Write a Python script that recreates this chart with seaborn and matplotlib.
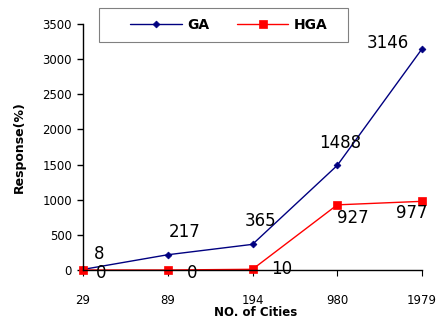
import matplotlib
matplotlib.use("Agg")
import matplotlib.pyplot as plt
from matplotlib.patches import Rectangle
import seaborn as sns
import pandas as pd

cities = ["29", "89", "194", "980", "1979"]
ga = [8, 217, 365, 1488, 3146]
hga = [0, 0, 10, 927, 977]

# label offsets in pixels (dx, dy) for each annotation
ga_off = [(16, 15), (17, 23), (8, 23), (3, 22), (-34, 6)]
hga_off = [(18, -3), (24, -3), (29, 0), (16, -13), (-10, -12)]

sns.set_theme(style="white")
plt.rcParams['font.family'] = ['DejaVu Sans']
plt.rcParams['text.color'] = 'black'
plt.rcParams['axes.labelcolor'] = 'black'
plt.rcParams['xtick.color'] = 'black'
plt.rcParams['ytick.color'] = 'black'

df = pd.DataFrame({
    "city": cities * 2,
    "value": ga + hga,
    "algo": ["GA"] * len(cities) + ["HGA"] * len(cities),
})

fig = plt.figure(figsize=(4.37, 3.2), dpi=100)
ax = fig.add_axes([83 / 437, 1 - 270 / 320, (422 - 83) / 437, (270 - 24) / 320])

sns.lineplot(data=df, x="city", y="value", hue="algo", style="algo",
             palette={"GA": "#000080", "HGA": "#ff0000"},
             markers={"GA": "D", "HGA": "s"}, dashes=False,
             markersize=5, linewidth=1, ax=ax, sort=False)
for line in ax.lines:
    line.set_clip_on(False)
    c = line.get_color()
    line.set_markeredgecolor(c)
    line.set_markerfacecolor(c)
    line.set_markeredgewidth(0.5)
    if line.get_marker() == "D":
        line.set_markersize(3.5)
    elif line.get_marker() == "s":
        line.set_markersize(5.5)

ax.set_xlim(0, len(cities) - 1)
ax.set_ylim(0, 3500)
ax.set_yticks(range(0, 3501, 500))
ax.set_xticks(range(len(cities)))
ax.set_xticklabels(cities)

for sp in ["top", "right"]:
    ax.spines[sp].set_visible(False)
for sp in ["left", "bottom"]:
    ax.spines[sp].set_color("black")
    ax.spines[sp].set_linewidth(1)

ax.tick_params(axis="y", which="both", left=True, length=4, width=1,
               labelsize=8.5, pad=4, direction="out")
ax.tick_params(axis="x", which="both", bottom=True, length=4, width=0.8,
               labelsize=8.5, pad=13, direction="out")

ax.set_xlabel("")
fig.text(256 / 437, 1 - 312 / 320, "NO. of Cities", fontsize=8.5, fontweight="bold",
         ha="center", va="center")
ax.set_ylabel("Response(%)", fontsize=9, fontweight="bold", labelpad=12)

px2pt = 72 / 100
for i, (v, (dx, dy)) in enumerate(zip(ga, ga_off)):
    ax.annotate(str(v), (i, v), xytext=(dx * px2pt, dy * px2pt),
                textcoords="offset points", ha="center", va="center", fontsize=12)
for i, (v, (dx, dy)) in enumerate(zip(hga, hga_off)):
    ax.annotate(str(v), (i, v), xytext=(dx * px2pt, dy * px2pt),
                textcoords="offset points", ha="center", va="center", fontsize=12)

leg = ax.legend(ncol=2, loc="center",
                bbox_to_anchor=(229 / 437, 1 - 25 / 320),
                bbox_transform=fig.transFigure,
                frameon=False, prop={"weight": "bold", "size": 10},
                handlelength=3.7, handletextpad=0.4, columnspacing=2.0,
                borderpad=0, borderaxespad=0)
leg.set_title(None)
fig.patches.append(Rectangle((99 / 437, 1 - 42 / 320), (348 - 99) / 437, 34 / 320,
                             transform=fig.transFigure, fill=False,
                             edgecolor="#808080", linewidth=0.8))

fig.savefig("out.png", dpi=100)
